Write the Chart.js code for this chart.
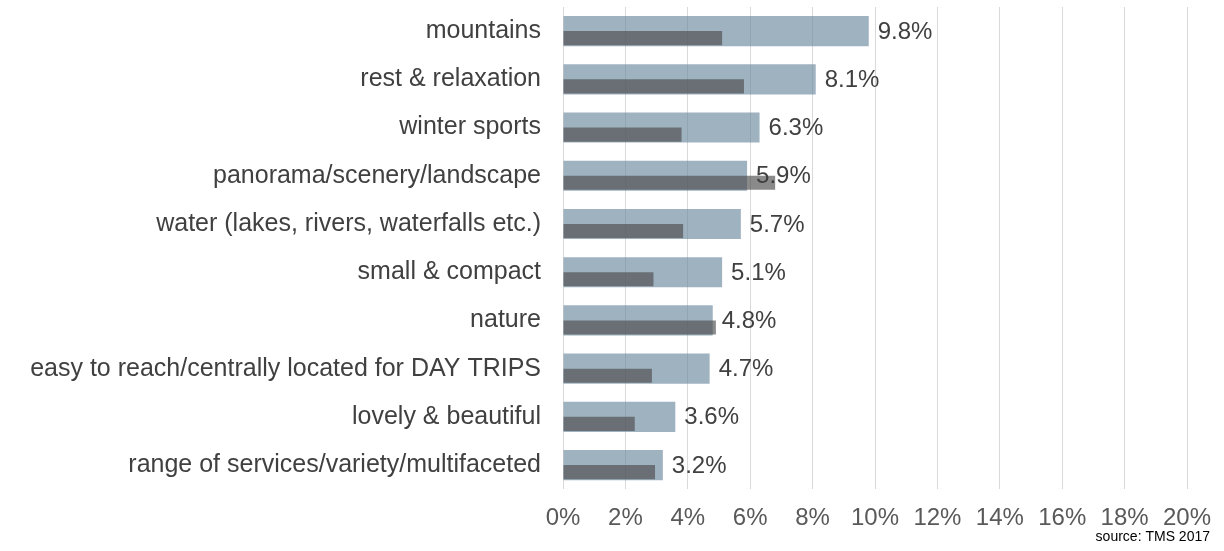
<!DOCTYPE html>
<html>
<head>
<meta charset="utf-8">
<script src="https://cdn.jsdelivr.net/npm/chart.js@4/dist/chart.umd.min.js"></script>
<style>
  html, body { margin: 0; padding: 0; background: #ffffff; }
  #wrap { width: 1224px; height: 551px; position: relative; }
</style>
</head>
<body>
<div id="wrap"><canvas id="c" width="1224" height="551"></canvas></div>
<script>
const categories = [
  "mountains",
  "rest & relaxation",
  "winter sports",
  "panorama/scenery/landscape",
  "water (lakes, rivers, waterfalls etc.)",
  "small & compact",
  "nature",
  "easy to reach/centrally located for DAY TRIPS",
  "lovely & beautiful",
  "range of services/variety/multifaceted"
];
const mainValues = [9.8, 8.1, 6.3, 5.9, 5.7, 5.1, 4.8, 4.7, 3.6, 3.2];
const compareValues = [5.1, 5.8, 3.8, 6.8, 3.85, 2.9, 4.9, 2.85, 2.3, 2.95];
const spacerValues = categories.map(() => null);
const xTicks = [0, 2, 4, 6, 8, 10, 12, 14, 16, 18, 20];
const sourceText = "source: TMS 2017";

const FONT = "'Liberation Sans', Arial, Helvetica, sans-serif";

const valueLabels = {
  id: 'valueLabels',
  afterDatasetsDraw(chart) {
    const meta = chart.getDatasetMeta(2);
    const ctx = chart.ctx;
    ctx.save();
    ctx.font = "24px " + FONT;
    ctx.fillStyle = "#404040";
    ctx.textAlign = "left";
    ctx.textBaseline = "middle";
    meta.data.forEach((el, i) => {
      ctx.fillText(mainValues[i].toFixed(1) + "%", el.x + 9, el.y + 1);
    });
    ctx.restore();
  },
  afterDraw(chart) {
    const ctx = chart.ctx;
    ctx.save();
    ctx.font = "14px " + FONT;
    ctx.fillStyle = "#000000";
    ctx.textAlign = "right";
    ctx.textBaseline = "middle";
    ctx.fillText(sourceText, chart.width - 14, 537);
    ctx.restore();
  }
};

new Chart(document.getElementById('c'), {
  type: 'bar',
  data: {
    labels: categories,
    datasets: [
      {
        label: 'spacer',
        data: spacerValues,
        backgroundColor: 'rgba(0,0,0,0)',
        borderWidth: 0,
        grouped: true,
        categoryPercentage: 0.585,
        barPercentage: 1,
        order: 0
      },
      {
        label: 'compare',
        data: compareValues,
        backgroundColor: 'rgba(77,77,77,0.66)',
        borderWidth: 0,
        grouped: true,
        categoryPercentage: 0.585,
        barPercentage: 1,
        order: 1
      },
      {
        label: 'main',
        data: mainValues,
        backgroundColor: 'rgba(108,137,158,0.65)',
        borderWidth: 0,
        grouped: false,
        categoryPercentage: 1,
        barPercentage: 0.625,
        order: 2
      }
    ]
  },
  options: {
    indexAxis: 'y',
    responsive: false,
    animation: false,
    devicePixelRatio: 1,
    layout: { padding: { top: 7, right: 37, bottom: 3, left: 0 } },
    plugins: {
      legend: { display: false },
      tooltip: { enabled: false }
    },
    scales: {
      x: {
        type: 'linear',
        position: 'bottom',
        min: 0,
        max: 20,
        afterBuildTicks(axis) { axis.ticks = xTicks.map(v => ({ value: v })); },
        afterFit(axis) {
          axis.paddingLeft = 0;
          axis.paddingRight = 0;
        },
        ticks: {
          callback: (v) => v + '%',
          color: '#595959',
          font: { family: FONT, size: 24 },
          padding: 15,
          maxRotation: 0,
          autoSkip: false
        },
        grid: { color: '#d9d9d9', lineWidth: 1, drawTicks: false },
        border: { display: false }
      },
      y: {
        type: 'category',
        position: 'left',
        offset: true,
        afterFit(axis) {
          axis.width = 563;
          axis.paddingTop = 0;
          axis.paddingBottom = 0;
        },
        ticks: {
          color: '#404040',
          font: { family: FONT, size: 25 },
          padding: 22,
          autoSkip: false
        },
        grid: { display: false, drawTicks: false },
        border: { display: false }
      }
    }
  },
  plugins: [valueLabels]
});
</script>
</body>
</html>
